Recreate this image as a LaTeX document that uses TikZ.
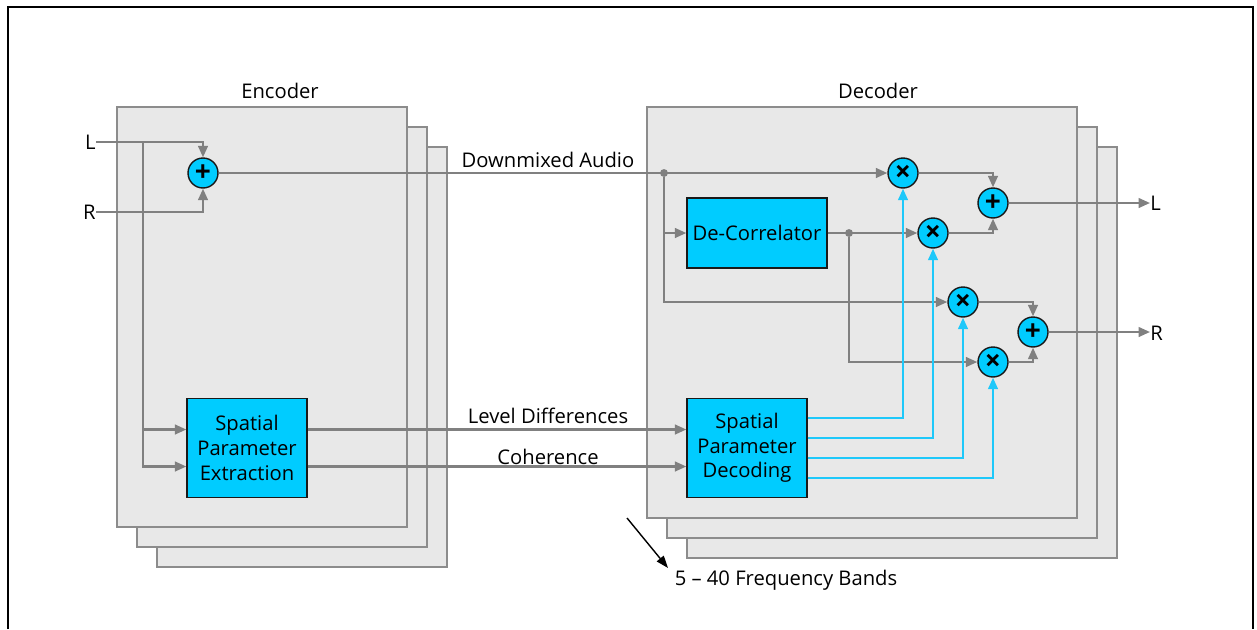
\documentclass[tikz,border=0pt]{standalone}
\usepackage{fontspec}
\setmainfont{Open Sans}
\usetikzlibrary{arrows.meta}
\definecolor{cyanc}{HTML}{00CCFF}
\definecolor{cyline}{HTML}{1EC8FA}
\definecolor{sgray}{HTML}{808080}
\definecolor{stfill}{HTML}{E8E8E8}
\definecolor{stdraw}{HTML}{8C8C8C}
\tikzset{
  stackbox/.style={draw=stdraw,fill=stfill,line width=0.8pt},
  bluebox/.style={draw=black!90,fill=cyanc,line width=0.8pt,align=center,inner sep=0pt,
    minimum width=2.4cm,minimum height=1.98cm,font=\fontsize{11.5}{14}\selectfont},
  op/.style={circle,draw=black!90,fill=cyanc,line width=0.8pt,minimum size=0.6cm,inner sep=0pt,
    font=\fontsize{16}{16}\selectfont\bfseries},
  lbl/.style={font=\fontsize{11.5}{13.6}\selectfont,inner sep=0pt},
  sig/.style={draw=sgray,line width=1.25pt},
  cy/.style={draw=cyline,line width=1.2pt},
  arr/.style={-{Triangle[length=6.5pt,width=5.5pt]}},
  jdot/.style={circle,fill=sgray,inner sep=0pt,minimum size=4.5pt},
}
\begin{document}
\begin{tikzpicture}[x=0.02cm,y=-0.02cm]
\useasboundingbox (0,0) rectangle (1257,629);
% outer frame
\draw[line width=1.4pt] (8,629) -- (8,7) -- (1253,7) -- (1253,629);
% encoder stack
\draw[stackbox] (157,147) rectangle (447,567);
\draw[stackbox] (137,127) rectangle (427,547);
\draw[stackbox] (117,107) rectangle (407,527);
% decoder stack
\draw[stackbox] (687,147) rectangle (1117,558);
\draw[stackbox] (667,127) rectangle (1097,538);
\draw[stackbox] (647,107) rectangle (1077,518);
% titles
\node[lbl] (enc) at (280,91) {Encoder};
\node[lbl] (dec) at (878,91) {Decoder};
% encoder nodes
\node[lbl,anchor=east] (Lin) at (96,142) {L};
\node[lbl,anchor=east] (Rin) at (96,212) {R};
\node[op] (add1) at (203,173) {+};
\node[bluebox] (spe) at (247,448) {Spatial\\Parameter\\Extraction};
\coordinate (jE) at (143,142);
% decoder nodes
\node[bluebox] (spd) at (747,448) {Spatial\\Parameter\\Decoding};
\node[bluebox,minimum width=2.8cm,minimum height=1.4cm] (dc) at (757,233) {De-Correlator};
\node[op] (m1) at (903,173) {×};
\node[op] (m2) at (933,233) {×};
\node[op] (m3) at (963,302) {×};
\node[op] (m4) at (993,362) {×};
\node[op] (aL) at (993,203) {+};
\node[op] (aR) at (1033,332) {+};
\node[jdot] (d1) at (664,173) {};
\node[jdot] (d2) at (849,233) {};
\node[lbl,anchor=west] (Lout) at (1150,203) {L};
\node[lbl,anchor=west] (Rout) at (1150,333) {R};
% edge labels
\node[lbl] (dmx) at (548,160) {Downmixed Audio};
\node[lbl] (ld) at (548,416) {Level Differences};
\node[lbl] (coh) at (548,457) {Coherence};
% encoder connections
\draw[sig,arr] (Lin.east) -| (add1.north);
\draw[sig,arr] (Rin.east) -| (add1.south);
\draw[sig,arr] (jE) |- ([yshift=0.37cm]spe.west);
\draw[sig,arr] (jE) |- ([yshift=-0.37cm]spe.west);
% encoder -> decoder
\draw[sig,arr] (add1.east) -- (m1.west);
\draw[sig,arr] ([yshift=0.37cm]spe.east) -- ([yshift=0.37cm]spd.west);
\draw[sig,arr] ([yshift=-0.37cm]spe.east) -- ([yshift=-0.37cm]spd.west);
% decoder connections
\draw[sig,arr] (d1) |- (m3.west);
\draw[sig,arr] (d1 |- dc.west) -- (dc.west);
\draw[sig,arr] (dc.east) -- (m2.west);
\draw[sig,arr] (d2) |- (m4.west);
\draw[sig,arr] (m1.east) -| (aL.north);
\draw[sig,arr] (m2.east) -| (aL.south);
\draw[sig,arr] (m3.east) -| (aR.north);
\draw[sig,arr] (m4.east) -| (aR.south);
\draw[sig,arr] (aL.east) -- (Lout.west);
\draw[sig,arr] (aR.east) -- (aR.east -| Rout.west);
% parameter lines
\draw[cy,arr] ([yshift=0.6cm]spd.east) -| (m1.south);
\draw[cy,arr] ([yshift=0.2cm]spd.east) -| (m2.south);
\draw[cy,arr] ([yshift=-0.2cm]spd.east) -| (m3.south);
\draw[cy,arr] ([yshift=-0.6cm]spd.east) -| (m4.south);
% frequency bands
\coordinate (fa) at (627,518);
\coordinate (fb) at (668,568);
\draw[line width=0.8pt,-{Triangle[length=7pt,width=5pt]}] (fa) -- (fb);
\node[lbl] (fbands) at (786,580) {5 – 40 Frequency Bands};
\end{tikzpicture}
\end{document}
